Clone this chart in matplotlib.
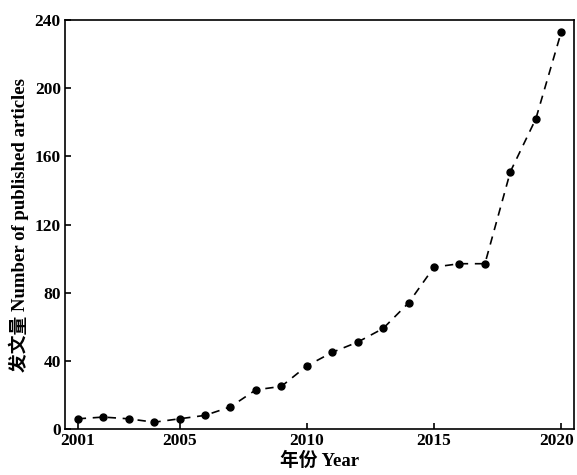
import matplotlib
matplotlib.use("Agg")
import matplotlib.pyplot as plt
import matplotlib.transforms as mtransforms

years = list(range(2001, 2021))
counts = [6, 7, 6, 4, 6, 8, 13, 23, 25, 37, 45, 51, 59, 74, 95, 97, 97, 151, 182, 233]
xticks = [2001, 2005, 2010, 2015, 2020]
yticks = [0, 40, 80, 120, 160, 200, 240]

plt.rcParams['font.family'] = ['Liberation Serif', 'Noto Sans CJK SC']
plt.rcParams['font.weight'] = 'bold'

fig = plt.figure(figsize=(5.77, 4.75), dpi=100)
ax = fig.add_axes([0.1127, 0.0968, 0.8821, 0.8611])
ax.plot(years, counts, 'k--', marker='o', markersize=5, linewidth=1.2, dashes=(5, 4))
ax.set_xlim(2000.5, 2020.5)
ax.set_ylim(0, 240)
ax.set_xticks(xticks)
ax.set_yticks(yticks)
ax.tick_params(direction='in', length=4, width=1.2, labelsize=12.5, top=False, right=False, pad=3)
for lab in ax.get_xticklabels() + ax.get_yticklabels():
    lab.set_fontweight('bold')
last = ax.get_xticklabels()[-1]
last.set_transform(last.get_transform() + mtransforms.ScaledTranslation(-5 / 100, 0, fig.dpi_scale_trans))
for s in ax.spines.values():
    s.set_linewidth(1.2)
ax.set_xlabel('年份 Year', fontsize=13.5, fontweight='bold', labelpad=2)
ax.set_ylabel('发文量 Number of published articles', fontsize=13.5, fontweight='bold', labelpad=4)
fig.savefig('out.png', dpi=100)
